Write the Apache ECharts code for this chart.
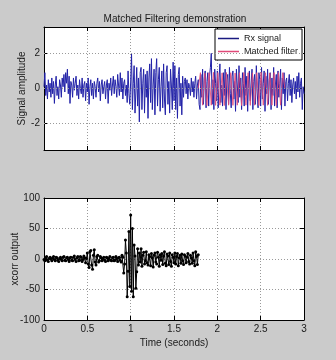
<!DOCTYPE html>
<html>
<head>
<meta charset="utf-8">
<script src="https://cdn.jsdelivr.net/npm/echarts@6/dist/echarts.min.js"></script>
<style>
  html, body { margin: 0; padding: 0; background: #cbcbcb; }
  #chart { width: 336px; height: 360px; }
</style>
</head>
<body>
<div id="chart"></div>
<script>
// Received signal, sampled every 0.01 s from 0 to 3 s
const sampleStep = 0.01;
const rxSignal = [
  0.1, 0.9, -0.4, 0.2, -0.6, 0.5, -0.2, 0.3, -0.5, 0.6,
  -0.3, 0.4, -0.85, 0.2, 0.7, -0.4, 0.1, -0.6, 0.5, 0.2,
  -0.5, 0.6, 0.1, 0.8, -0.2, 0.9, 0.3, 1.1, -0.3, 0.7,
  -0.85, 0.4, 0.2, -0.5, 0.6, -0.1, 0.3, 0.7, -0.4, 0.2,
  -0.6, 0.5, 0.0, -0.3, 0.6, -0.5, 0.2, 0.4, -0.7, 0.3,
  -0.2, 0.6, -0.9, 0.1, 0.5, -0.4, 0.3, -0.6, 0.4, 0.1,
  -0.5, 0.3, 0.6, -0.2, 0.4, -0.7, 0.2, 0.5, -0.3, 0.1,
  0.4, -0.6, 0.2, 0.5, -0.85, 0.3, -0.1, 0.6, -0.4, 0.2,
  0.7, -0.3, 0.5, 0.1, -0.5, 0.8, 0.2, -0.4, 0.9, -0.2,
  0.6, -0.6, 0.3, 0.5, -0.4, 0.2, -0.8, 1.0, -0.3, -0.9,
  0.4, 2.0, -1.2, 0.3, 1.3, -1.4, -0.2, 1.2, -1.0, 0.6,
  -1.9, 0.9, 1.2, -1.2, 0.3, 1.1, -1.4, 0.8, -0.5, 1.0,
  -1.7, 0.6, 1.4, -0.8, 1.7, -1.2, 0.2, 1.1, -1.5, 0.9,
  1.7, -1.0, 0.5, 1.2, -1.3, 0.1, 1.0, -1.1, 1.4, -0.6,
  -1.5, 0.9, 1.3, -0.9, 0.4, -1.4, 1.1, 0.2, -1.2, 1.5,
  -0.7, 1.3, -1.2, 0.6, -1.7, 0.8, 1.2, -1.0, 0.3, -1.5,
  0.7, -0.5, 0.4, 0.6, -0.3, 0.5, -0.6, 0.3, 0.1, -0.4,
  0.6, -0.2, 0.4, -0.5, 0.3, 0.7, -0.6, 0.2, 0.5, -0.9,
  -1.2, 0.8, -0.5, 1.1, -0.9, 0.6, 1.0, -1.1, 0.4, 0.9,
  -1.0, 0.7, 1.2, 2.0, -0.9, 0.5, -1.2, 1.1, 0.3, -0.7,
  1.0, -1.1, 0.6, 1.4, -0.8, 0.2, -1.0, 0.9, -0.4, 1.1,
  -1.2, 0.5, 0.8, -0.9, 1.2, -0.3, -1.1, 0.7, 1.0, -0.6,
  0.4, -1.3, 1.1, 0.2, -0.8, 1.3, -0.5, 0.6, -1.2, 0.9,
  0.3, -1.0, 1.2, -0.4, 0.7, -1.3, 0.5, 1.0, -0.7, 0.2,
  1.1, -1.2, 0.4, 0.8, -0.9, 1.3, -0.2, -1.1, 0.9, 0.5,
  -1.0, 1.2, -0.6, 0.3, 1.0, -1.3, 0.7, -0.3, 1.1, -0.9,
  0.5, 0.9, -1.2, 0.6, -0.4, 1.2, -1.0, 0.2, 0.8, -1.1,
  1.0, -0.5, 0.3, 1.1, -1.2, 0.6, -0.3, 0.9, -1.0, 0.4,
  0.6, -0.7, 0.3, 0.8, -0.4, 0.5, -0.8, 0.2, 0.6, -0.3,
  0.4, -0.6, 0.7, -0.2, 0.9, -0.5, 0.3, 0.6, -1.2, 0.1, -0.3
];

// Matched filter template: turning points every 0.025 s starting at 1.78 s
const filterStart = 1.78;
const filterStep = 0.025;
const matchedFilter = [
  0.0, 0.9, -0.95, 0.88, -0.97, 0.9, -0.95, 0.92, -0.96, 0.9,
  -0.95, 0.89, -0.97, 0.91, -0.95, 0.9, -0.96, 0.88, -0.95, 0.9,
  -0.97, 0.91, -0.95, 0.9, -0.96, 0.89, -0.95, 0.9, -0.97, 0.92,
  -0.95, 0.9, -0.96, 0.88, -0.95, 0.91, -0.97, 0.9, -0.95, 0.9, 0.0
];

// Cross-correlation output, one value every 0.01 s from 0 to 1.78 s
const xcorrOutput = [
  -1, -3, 2, 4, -2, -4, 1, 3, 0, -3,
  2, 4, -1, -3, 3, 2, -2, -4, 1, 3,
  -1, -3, 3, 4, -2, -3, 2, 3, -1, -4,
  2, 3, -2, -3, 3, 5, -1, -4, 2, 4,
  -3, -2, 4, 3, -4, -1, 5, 2, -6, 1,
  10, -8, -14, 12, 14, -10, -17, 6, 15, -5,
  -10, 4, 6, -5, -3, 4, 2, -3, 1, 3,
  -2, -4, 3, 2, -3, 1, 4, -2, -3, 2,
  3, -3, -2, 4, 1, -4, 2, 3, -2, -5,
  6, 3, -23, -8, 31, 10, -62, -20, 45, -45,
  72, -53, 50, -62, 23, 5, -48, -21, 17, -10,
  10, -5, 17, -12, 6, 11, -8, -3, 12, -6,
  -10, 7, 4, -11, 9, 2, -13, 6, 10, -5,
  -8, 11, 3, -12, 7, -2, 9, -9, 5, 12,
  -7, -11, 8, 5, -9, 10, -4, -12, 7, 3,
  -6, 10, -8, 4, 9, -11, 2, 6, -7, 8,
  -3, -9, 7, 5, -6, 3, 9, -4, -8, 6,
  2, -7, 10, -3, -11, 12, 4, -9, 7
];

const timeTicks = { min: 0, max: 3, interval: 0.5 };
const ampRange = { min: -3.5, max: 3.5 };
const ampTicks = [-2, 0, 2];
const xcorrTicks = { min: -100, max: 100, interval: 50 };

const rxData = rxSignal.map((v, i) => [+(i * sampleStep).toFixed(3), v]);
const filterData = matchedFilter.map((v, i) => [+(filterStart + i * filterStep).toFixed(3), v]);
const xcorrData = xcorrOutput.map((v, i) => [+(i * sampleStep).toFixed(3), v]);

const FONT = 'Liberation Sans, Arial, sans-serif';
const TXT = '#1a1a1a';
const RX_COLOR = '#2222a8';
const FILTER_COLOR = '#e04a78';
const gridLineStyle = { color: '#9a9a9a', type: [1, 2], width: 1 };
const gridLine = { show: true, lineStyle: gridLineStyle };
const boxLine = { show: true, onZero: false, lineStyle: { color: '#000', width: 1 } };
const inTick = { show: true, inside: true, length: 4, lineStyle: { color: '#000' } };
const nameFont = { color: TXT, fontSize: 10, fontFamily: FONT };

function timeAxis(gridIndex, position, labels) {
  return {
    type: 'value', gridIndex, position,
    min: timeTicks.min, max: timeTicks.max, interval: timeTicks.interval,
    axisLine: boxLine, axisTick: inTick,
    axisLabel: { show: labels, color: TXT, fontSize: 10, fontFamily: FONT, margin: 4 },
    splitLine: position === 'bottom' ? gridLine : { show: false },
    name: labels ? 'Time (seconds)' : '',
    nameLocation: 'middle', nameGap: 18, nameMoveOverlap: false,
    nameTextStyle: nameFont
  };
}

const option = {
  backgroundColor: '#cbcbcb',
  animation: false,
  title: {
    text: 'Matched Filtering demonstration',
    left: 170, top: 9, textAlign: 'center',
    textStyle: { color: TXT, fontSize: 10, fontWeight: 'normal', fontFamily: FONT }
  },
  legend: {
    orient: 'vertical', left: 215, top: 29,
    backgroundColor: '#fff', borderColor: '#000', borderWidth: 1, borderRadius: 0,
    padding: [5, 4, 4, 3], itemGap: 4, itemWidth: 21, itemHeight: 1.5,
    icon: 'rect',
    textStyle: { color: TXT, fontSize: 9, fontFamily: FONT },
    data: [
      { name: 'Rx signal', itemStyle: { color: '#1a1a80', borderWidth: 0 } },
      { name: 'Matched filter', itemStyle: { color: FILTER_COLOR, borderWidth: 0 } }
    ]
  },
  grid: [
    { left: 44, top: 27, width: 260, height: 123, show: true, backgroundColor: '#fff', borderWidth: 0, outerBoundsMode: 'none', containLabel: false },
    { left: 44, top: 198, width: 260, height: 122, show: true, backgroundColor: '#fff', borderWidth: 0, outerBoundsMode: 'none', containLabel: false }
  ],
  xAxis: [
    timeAxis(0, 'bottom', false),
    timeAxis(0, 'top', false),
    timeAxis(1, 'bottom', true),
    timeAxis(1, 'top', false)
  ],
  yAxis: [
    {
      type: 'value', gridIndex: 0, position: 'left', min: ampRange.min, max: ampRange.max,
      axisLine: boxLine,
      axisTick: Object.assign({ customValues: ampTicks }, inTick),
      axisLabel: { customValues: ampTicks, color: TXT, fontSize: 10, fontFamily: FONT, margin: 4 },
      splitLine: { show: false },
      name: 'Signal amplitude', nameLocation: 'middle', nameGap: 17, nameMoveOverlap: false,
      nameTextStyle: nameFont
    },
    {
      type: 'value', gridIndex: 0, position: 'right', min: ampRange.min, max: ampRange.max,
      axisLine: boxLine,
      axisTick: Object.assign({ customValues: ampTicks }, inTick),
      axisLabel: { show: false, customValues: ampTicks },
      splitLine: { show: false }
    },
    {
      type: 'value', gridIndex: 1, position: 'left',
      min: xcorrTicks.min, max: xcorrTicks.max, interval: xcorrTicks.interval,
      axisLine: boxLine, axisTick: inTick,
      axisLabel: { color: TXT, fontSize: 10, fontFamily: FONT, margin: 4 },
      splitLine: gridLine,
      name: 'xcorr output', nameLocation: 'middle', nameGap: 24, nameMoveOverlap: false,
      nameTextStyle: nameFont
    },
    {
      type: 'value', gridIndex: 1, position: 'right',
      min: xcorrTicks.min, max: xcorrTicks.max, interval: xcorrTicks.interval,
      axisLine: boxLine, axisTick: inTick,
      axisLabel: { show: false }, splitLine: { show: false }
    }
  ],
  series: [
    {
      // horizontal dotted grid of the amplitude plot, drawn under the traces
      name: 'amplitude grid', type: 'line', xAxisIndex: 0, yAxisIndex: 0,
      data: [], z: 1, silent: true,
      markLine: {
        silent: true, symbol: 'none', label: { show: false },
        lineStyle: gridLineStyle, emphasis: { disabled: true },
        data: ampTicks.map(v => ({ yAxis: v }))
      }
    },
    {
      name: 'Rx signal', type: 'line', xAxisIndex: 0, yAxisIndex: 0, z: 2,
      data: rxData, showSymbol: false, symbol: 'none',
      lineStyle: { color: RX_COLOR, width: 1 }, itemStyle: { color: '#1a1a80' }
    },
    {
      name: 'Matched filter', type: 'line', xAxisIndex: 0, yAxisIndex: 0, z: 3,
      data: filterData, showSymbol: false, symbol: 'none',
      lineStyle: { color: FILTER_COLOR, width: 1, opacity: 0.85 }, itemStyle: { color: FILTER_COLOR }
    },
    {
      name: 'xcorr', type: 'line', xAxisIndex: 2, yAxisIndex: 2,
      data: xcorrData, symbol: 'circle', symbolSize: 3, showSymbol: true,
      lineStyle: { color: '#000', width: 1 }, itemStyle: { color: '#000' }
    }
  ]
};

echarts.init(document.getElementById('chart'), null, { renderer: 'canvas' }).setOption(option);
</script>
</body>
</html>
